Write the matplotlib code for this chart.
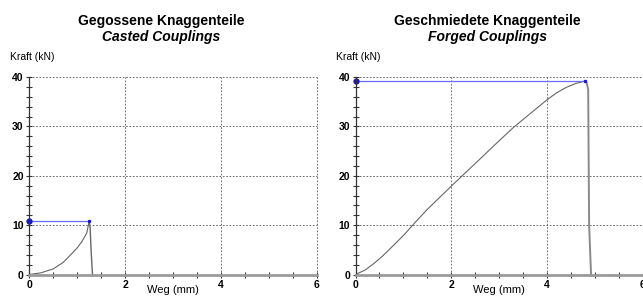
import numpy as np
import matplotlib.pyplot as plt
from matplotlib.ticker import MultipleLocator

# data
cast_x = [0, 0.25, 0.5, 0.7, 0.85, 1.0, 1.1, 1.2, 1.25]
cast_y = [0, 0.35, 1.15, 2.4, 3.85, 5.4, 6.7, 8.4, 10.8]
cast_drop_x = [1.25, 1.27, 1.29, 1.31, 1.32]
cast_drop_y = [10.8, 9.5, 5.0, 1.5, 0]
cast_peak = (1.25, 10.8)

forg_x = [0, 0.2, 0.38, 0.55, 0.73, 1.0, 1.25, 1.5, 2.0, 2.6, 3.0, 3.3, 3.7, 4.0, 4.2, 4.4, 4.6, 4.79]
forg_y = [0, 0.9, 2.2, 3.6, 5.3, 7.9, 10.6, 13.2, 17.9, 23.4, 27.1, 29.8, 33.0, 35.4, 36.8, 37.9, 38.7, 39.2]
forg_drop_x = [4.79, 4.83, 4.86, 4.88, 4.92]
forg_drop_y = [39.2, 38.8, 37.5, 10.0, 0]
forg_tail_x = [5.28, 5.34]
forg_tail_y = [0, 0]
forg_peak = (4.79, 39.2)

titles = [("Gegossene Knaggenteile", "Casted Couplings"),
          ("Geschmiedete Knaggenteile", "Forged Couplings")]

plt.rcParams["font.family"] = ["Liberation Sans", "DejaVu Sans"]

CURVE = "#666666"
DROP = "#8a8a8a"
BLUE_LINE = "#6a6aff"
BLUE_DOT = "#1414c8"
GRID = "#555555"

fig = plt.figure(figsize=(6.43, 2.96), dpi=100)
ax_l = fig.add_axes([0.0456, 0.0726, 0.4467, 0.667])
ax_r = fig.add_axes([0.5529, 0.0726, 0.4467, 0.667])


def style_axes(ax):
    ax.set_xlim(0, 6)
    ax.set_ylim(0, 40)
    ax.xaxis.set_major_locator(MultipleLocator(2))
    ax.xaxis.set_minor_locator(MultipleLocator(0.5))
    ax.yaxis.set_major_locator(MultipleLocator(10))
    ax.yaxis.set_minor_locator(MultipleLocator(2))
    for s in ("top", "right"):
        ax.spines[s].set_visible(False)
    ax.spines["left"].set_color("#333333")
    ax.spines["left"].set_linewidth(0.9)
    ax.spines["bottom"].set_color("#9a9a9a")
    ax.spines["bottom"].set_linewidth(2.0)
    ax.grid(True, which="major", color=GRID, ls=(0, (2, 2)), lw=0.6, clip_on=False)
    ax.tick_params(which="both", direction="inout", color="#333333", width=0.8,
                   labelsize=7.5, pad=1.5)
    ax.tick_params(which="major", length=5)
    ax.tick_params(which="minor", length=4)
    for lab in ax.get_xticklabels() + ax.get_yticklabels():
        lab.set_fontweight("bold")
    ax.set_xlabel("Weg (mm)", fontsize=8, labelpad=-4)
    ax.set_axisbelow(True)


for ax in (ax_l, ax_r):
    style_axes(ax)

ax_l.plot(cast_x, cast_y, color=CURVE, lw=0.8)
ax_l.plot(cast_drop_x, cast_drop_y, color=CURVE, lw=1.0)
ax_l.plot([0, cast_peak[0]], [cast_peak[1]] * 2, color=BLUE_LINE, lw=0.9)
ax_l.plot([0], [cast_peak[1]], "o", color=BLUE_DOT, ms=3.5, clip_on=False)
ax_l.plot([cast_peak[0]], [cast_peak[1]], "o", color=BLUE_DOT, ms=1.5)

ax_r.plot(forg_x, forg_y, color=CURVE, lw=0.8)
ax_r.plot(forg_drop_x, forg_drop_y, color=DROP, lw=1.4)
ax_r.plot(forg_tail_x, forg_tail_y, color="#333333", lw=1.0)
ax_r.plot([0, forg_peak[0]], [forg_peak[1]] * 2, color=BLUE_LINE, lw=0.9)
ax_r.plot([0], [forg_peak[1]], "o", color=BLUE_DOT, ms=3.5, clip_on=False)
ax_r.plot([forg_peak[0]], [forg_peak[1]], "o", color=BLUE_DOT, ms=1.5)

for cx, (t1, t2) in zip([0.2504, 0.7574], titles):
    fig.text(cx, 0.930, t1, ha="center", va="center", fontsize=10, fontweight="bold")
    fig.text(cx, 0.876, t2, ha="center", va="center", fontsize=10,
             fontweight="bold", fontstyle="italic")

fig.text(10 / 643, 1 - 57 / 296, "Kraft (kN)", ha="left", va="center", fontsize=7.5)
fig.text(336 / 643, 1 - 57 / 296, "Kraft (kN)", ha="left", va="center", fontsize=7.5)

fig.savefig("out.png", dpi=100, facecolor="white")
